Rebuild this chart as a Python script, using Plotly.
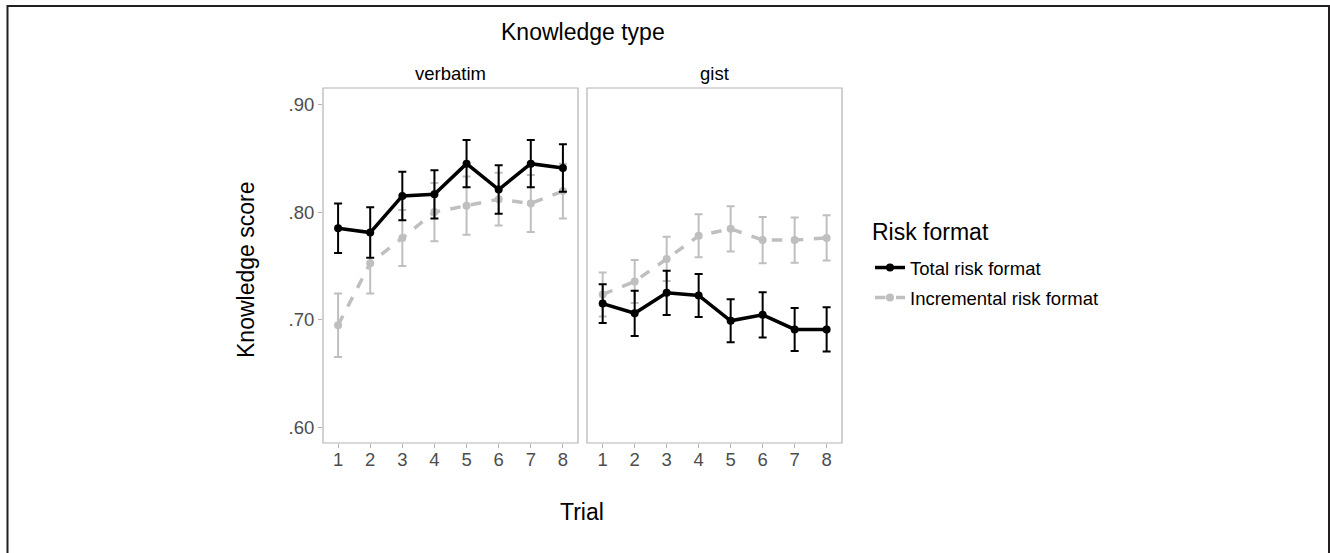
import plotly.graph_objects as go

trials = [1, 2, 3, 4, 5, 6, 7, 8]
panels = ["verbatim", "gist"]
series_names = ["Total risk format", "Incremental risk format"]

verbatim_total = [0.785, 0.781, 0.815, 0.8165, 0.845, 0.821, 0.845, 0.841]
verbatim_total_err = [0.023, 0.0235, 0.0225, 0.0225, 0.022, 0.0225, 0.022, 0.022]
verbatim_incr = [0.695, 0.7525, 0.776, 0.800, 0.806, 0.812, 0.808, 0.8195]
verbatim_incr_err = [0.0295, 0.028, 0.026, 0.027, 0.027, 0.0245, 0.0265, 0.0255]

gist_total = [0.715, 0.706, 0.725, 0.7226, 0.699, 0.7046, 0.691, 0.691]
gist_total_err = [0.018, 0.021, 0.0205, 0.020, 0.020, 0.021, 0.020, 0.0205]
gist_incr = [0.7235, 0.7356, 0.7565, 0.778, 0.7845, 0.774, 0.774, 0.776]
gist_incr_err = [0.0205, 0.020, 0.0205, 0.020, 0.021, 0.0215, 0.021, 0.021]

y_tick_vals = [0.60, 0.70, 0.80, 0.90]
y_tick_text = [".60", ".70", ".80", ".90"]

FONT = "Liberation Sans, Arial, sans-serif"
BLACK = "#000000"
GREY = "#bfbfbf"
W, H = 1330, 553
TXT = 18.5
TTL = 23

fig = go.Figure()

data = {
    "verbatim": [(verbatim_incr, verbatim_incr_err), (verbatim_total, verbatim_total_err)],
    "gist": [(gist_incr, gist_incr_err), (gist_total, gist_total_err)],
}
styles = [
    dict(name=series_names[1], color=GREY, dash="dash"),
    dict(name=series_names[0], color=BLACK, dash="solid"),
]

for pi, panel in enumerate(panels):
    xa = "x" if pi == 0 else "x2"
    ya = "y" if pi == 0 else "y2"
    for si, (vals, errs) in enumerate(data[panel]):
        st = styles[si]
        fig.add_trace(go.Scatter(
            x=trials, y=vals, xaxis=xa, yaxis=ya,
            mode="lines+markers",
            name=st["name"],
            legendgroup=st["name"],
            legendrank=2 if si == 0 else 1,
            showlegend=(pi == 0),
            line=dict(color=st["color"], width=3.5, dash=st["dash"]),
            marker=dict(color=st["color"], size=8),
            error_y=dict(type="data", array=errs, visible=True,
                         color=st["color"], thickness=2, width=4),
        ))

def px_x(p):
    return p / W

def px_y(p):
    return 1 - p / H

yrange = [0.5855, 0.9153]
axis_common = dict(showgrid=False, zeroline=False, showline=False, mirror=False,
                   ticks="outside", ticklen=4, tickcolor="#b3b3b3", tickwidth=1,
                   tickfont=dict(family=FONT, size=TXT, color="#4d4d4d"))

fig.update_layout(
    width=W, height=H,
    margin=dict(l=0, r=0, t=0, b=0),
    paper_bgcolor="white", plot_bgcolor="white",
    font=dict(family=FONT),
    xaxis=dict(domain=[px_x(323), px_x(578)], range=[0.53, 8.47],
               tickvals=trials, anchor="y", ticklabelstandoff=-4, **axis_common),
    xaxis2=dict(domain=[px_x(587), px_x(842)], range=[0.51, 8.48],
                tickvals=trials, anchor="y2", ticklabelstandoff=-4, **axis_common),
    yaxis=dict(domain=[px_y(443), px_y(88)], range=yrange,
               tickvals=y_tick_vals, ticktext=y_tick_text, anchor="x",
               ticklabelstandoff=0, **axis_common),
    yaxis2=dict(domain=[px_y(443), px_y(88)], range=yrange,
                tickvals=y_tick_vals, showticklabels=False, ticks="", anchor="x2",
                showgrid=False, zeroline=False),
    showlegend=True,
    legend=dict(x=px_x(870), y=px_y(249), xanchor="left", yanchor="top",
                font=dict(family=FONT, size=TXT, color="#000"),
                traceorder="grouped", tracegroupgap=3, itemwidth=30,
                bgcolor="rgba(0,0,0,0)"),
)

shapes = []
for xa, ya in [("x domain", "y domain"), ("x2 domain", "y2 domain")]:
    shapes.append(dict(type="rect", xref=xa, yref=ya, x0=0, x1=1, y0=0, y1=1,
                       line=dict(color="#b3b3b3", width=1.2), fillcolor="rgba(0,0,0,0)"))
shapes.append(dict(type="rect", xref="paper", yref="paper",
                   x0=px_x(7.5), x1=px_x(1329), y0=-0.05, y1=px_y(6),
                   line=dict(color="#231f20", width=2), fillcolor="rgba(0,0,0,0)"))
fig.update_layout(shapes=shapes)

annotations = [
    dict(text="Knowledge type", x=px_x(583), y=px_y(32), size=TTL),
    dict(text="verbatim", x=px_x(450), y=px_y(73), size=TXT),
    dict(text="gist", x=px_x(714), y=px_y(73), size=TXT),
    dict(text="Trial", x=px_x(582), y=px_y(512), size=TTL),
]
for a in annotations:
    fig.add_annotation(text=a["text"], x=a["x"], y=a["y"], xref="paper", yref="paper",
                       showarrow=False, xanchor="center", yanchor="middle",
                       font=dict(family=FONT, size=a["size"], color="#000"))
fig.add_annotation(text="Risk format", x=px_x(870), y=px_y(232), xref="paper", yref="paper",
                   showarrow=False, xanchor="left", yanchor="middle",
                   font=dict(family=FONT, size=TTL, color="#000"))
fig.add_annotation(text="Knowledge score", x=px_x(246), y=px_y(270), xref="paper", yref="paper",
                   showarrow=False, textangle=-90, xanchor="center", yanchor="middle",
                   font=dict(family=FONT, size=TTL, color="#000"))

fig.write_html("out.html", config={"displayModeBar": False},
               post_script="document.body.style.margin='0';document.body.style.overflow='hidden';")
